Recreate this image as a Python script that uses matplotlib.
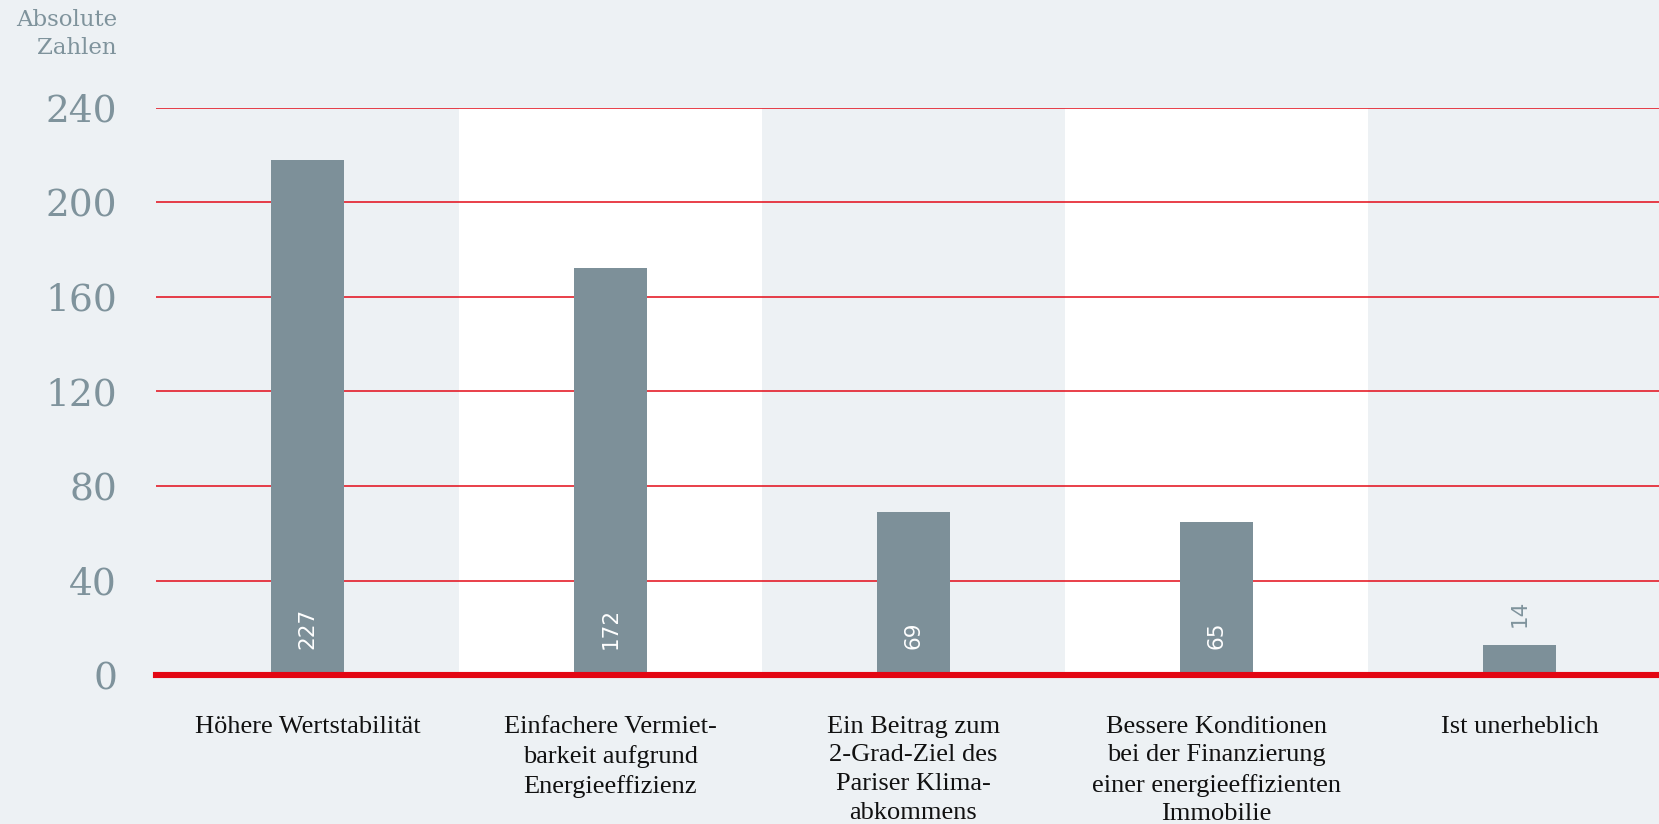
import matplotlib.pyplot as plt
import numpy as np

categories = ['Höhere Wertstabilität',
              'Einfachere Vermiet-\nbarkeit aufgrund\nEnergieeffizienz',
              'Ein Beitrag zum\n2-Grad-Ziel des\nPariser Klima-\nabkommens',
              'Bessere Konditionen\nbei der Finanzierung\neiner energieeffizienten\nImmobilie',
              'Ist unerheblich']
# bar heights as drawn in the picture, and the numbers printed on them
heights = [218, 172, 69, 65, 13]
labels = ['227', '172', '69', '65', '14']
yticks = [0, 40, 80, 120, 160, 200, 240]

bg = '#edf1f4'
bar_col = '#7d9099'
grey = '#7f939c'
red = '#e30613'

fig = plt.figure(figsize=(16.59, 8.24), dpi=100, facecolor=bg)
ax = fig.add_axes([156/1659, (824-675.3)/824, 1515/1659, 567.8/824])
ax.set_facecolor(bg)

x = np.arange(len(categories))
for i in x:
    if i % 2 == 1:
        ax.axvspan(i-0.5, i+0.5, color='white', zorder=0, lw=0)

for t in yticks[1:]:
    ax.axhline(t, color=red, lw=1.2, zorder=1, alpha=0.9)

ax.bar(x, heights, width=0.24, color=bar_col, zorder=2)
ax.axhline(0, color=red, lw=4.4, zorder=3, clip_on=False)

for i in x:
    if heights[i] > 40:
        ax.text(i, 11, labels[i], rotation=90, ha='center', va='bottom',
                color='white', fontsize=15.5, family='DejaVu Sans', zorder=4)
    else:
        ax.text(i, heights[i] + 7.5, labels[i], rotation=90, ha='center', va='bottom',
                color=grey, fontsize=15.5, family='DejaVu Sans', zorder=4)

ax.set_xlim(-0.5, 4.5)
ax.set_ylim(0, 240)
ax.set_yticks(yticks)
ax.set_yticklabels([str(t) for t in yticks], fontsize=27, family='DejaVu Serif', color=grey)
ax.tick_params(axis='y', length=0, pad=28)
ax.set_xticks(x)
ax.set_xticklabels(categories, fontsize=19, family='Liberation Serif', color='#111111',
                   va='top', linespacing=1.4)
ax.tick_params(axis='x', length=0, pad=29)
for s in ax.spines.values():
    s.set_visible(False)

fig.text(117/1659, 1 - 9/824, 'Absolute\nZahlen', ha='right', va='top', fontsize=16.5,
         family='DejaVu Serif', color=grey, linespacing=1.35)

fig.savefig('out.png', dpi=100, facecolor=bg)
